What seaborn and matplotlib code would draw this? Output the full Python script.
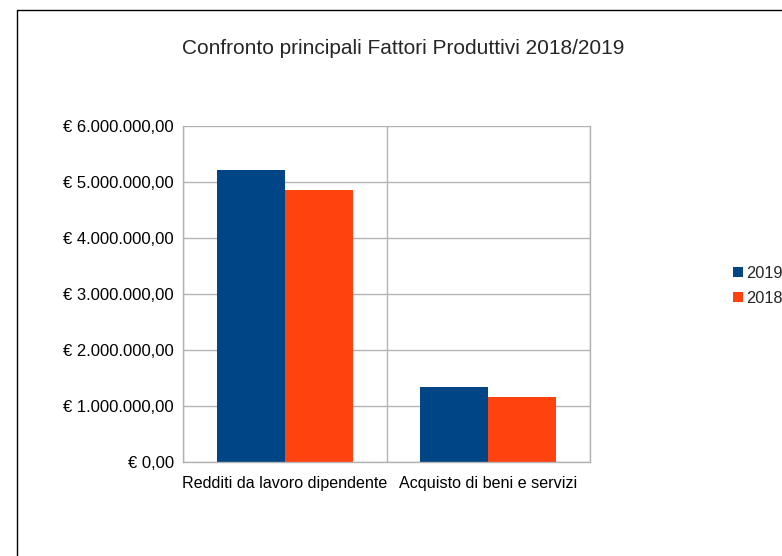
import matplotlib
matplotlib.use("Agg")
import matplotlib.pyplot as plt
import seaborn as sns
import pandas as pd
from matplotlib.lines import Line2D
from matplotlib.ticker import FuncFormatter, FixedLocator

categories = ["Redditi da lavoro dipendente", "Acquisto di beni e servizi"]
years = ["2019", "2018"]
values_2019 = [5210000, 1340000]
values_2018 = [4857000, 1160000]
yticks = [0, 1000000, 2000000, 3000000, 4000000, 5000000, 6000000]
title = "Confronto principali Fattori Produttivi 2018/2019"
colors = ["#004586", "#ff420e"]

sns.set_style("white")
plt.rcParams["font.family"] = ["Liberation Sans", "DejaVu Sans"]

df = pd.DataFrame({
    "categoria": categories * 2,
    "anno": [years[0]] * 2 + [years[1]] * 2,
    "valore": values_2019 + values_2018,
})

fig = plt.figure(figsize=(7.82, 5.56), dpi=100)
ax = fig.add_axes([183 / 782, 1 - 462 / 556, (590 - 183) / 782, (462 - 126) / 556])

sns.barplot(data=df, x="categoria", y="valore", hue="anno", hue_order=years,
            palette=colors, width=0.667, gap=0, saturation=1, ax=ax, legend=True,
            errorbar=None, linewidth=0, edgecolor="none")

gc = "#b3b3b3"
ax.set_xlim(-0.5, 1.5)
ax.set_ylim(0, 6000000)
ax.set_yticks(yticks)
ax.yaxis.set_major_formatter(FuncFormatter(
    lambda v, p: "€ " + f"{v:,.2f}".replace(",", "X").replace(".", ",").replace("X", ".")))
ax.xaxis.set_minor_locator(FixedLocator([-0.5, 0.5, 1.5]))
ax.grid(True, axis="y", which="major", color=gc, linewidth=1)
ax.grid(True, axis="x", which="minor", color=gc, linewidth=1)
ax.set_axisbelow(True)
ax.tick_params(axis="y", which="major", length=4.5, color=gc, width=1,
               labelsize=12, pad=2, labelcolor="#000000")
ax.tick_params(axis="x", which="major", length=0, labelsize=11.6, pad=10, labelcolor="#000000")
ax.tick_params(axis="x", which="minor", length=5.5, color=gc, width=1, direction="out")
ax.spines["top"].set_visible(False)
for s in ["left", "bottom", "right"]:
    ax.spines[s].set_color(gc)
    ax.spines[s].set_linewidth(1)
ax.set_xlabel("")
ax.set_ylabel("")

handles, labels = ax.get_legend_handles_labels()
ax.get_legend().remove()
fig.legend(handles, labels, loc="upper left", bbox_to_anchor=(733 / 782, 1 - 266 / 556),
           frameon=False, fontsize=11.8, handlelength=0.6, handleheight=0.6,
           handletextpad=0.2, labelspacing=0.6, borderaxespad=0, borderpad=0)

fig.text(403 / 782, 1 - 48 / 556, title, ha="center", va="center", fontsize=15)

fig.add_artist(Line2D([17 / 782, 17 / 782], [0, 1 - 10 / 556], transform=fig.transFigure,
                      color="black", linewidth=1))
fig.add_artist(Line2D([17 / 782, 1], [1 - 10 / 556, 1 - 10 / 556], transform=fig.transFigure,
                      color="black", linewidth=1))

fig.savefig("out.png", dpi=100)
